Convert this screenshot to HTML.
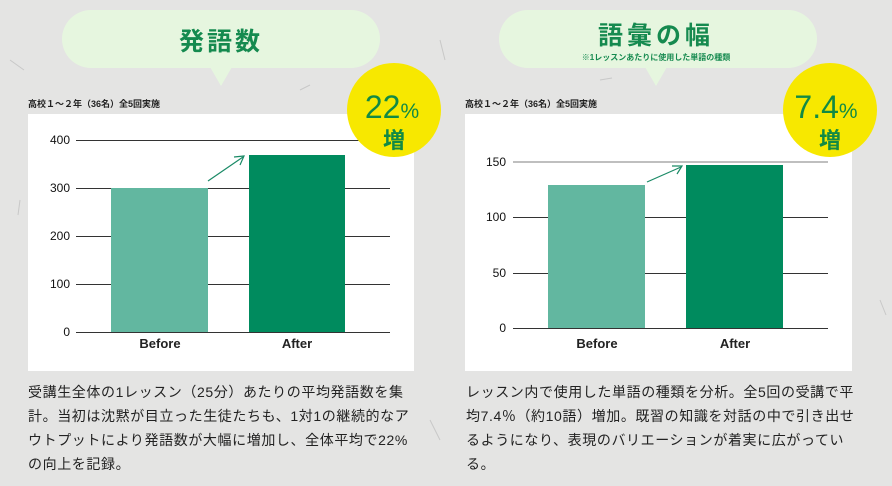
<!DOCTYPE html>
<html><head><meta charset="utf-8"><style>
body{margin:0;width:892px;height:486px;overflow:hidden;background:#e4e4e3;font-family:"Liberation Sans","Noto Sans CJK JP",sans-serif;}
.p{position:absolute;font-size:14px;line-height:24px;color:#222;letter-spacing:0.6px;white-space:nowrap;}
</style></head><body>
<svg width="892" height="486" style="position:absolute;left:0;top:0" font-family="Liberation Sans, Noto Sans CJK JP, sans-serif">
<g stroke="#c8c8c8" stroke-width="1">
<line x1="10" y1="60" x2="24" y2="70"/><line x1="440" y1="40" x2="445" y2="60"/><line x1="300" y1="90" x2="310" y2="85"/><line x1="860" y1="110" x2="872" y2="105"/><line x1="600" y1="80" x2="612" y2="78"/><line x1="430" y1="420" x2="440" y2="440"/><line x1="20" y1="200" x2="18" y2="215"/><line x1="880" y1="300" x2="886" y2="315"/>
</g>
<rect x="62" y="10" width="318" height="58" rx="29" fill="#e6f6df"/>
<polygon points="210,67 232,67 221,86" fill="#e6f6df"/>
<text x="221" y="50" text-anchor="middle" font-size="25" font-weight="bold" fill="#158a4f" letter-spacing="3">発語数</text>
<text x="28" y="107" font-size="9" font-weight="bold" fill="#222">高校１～２年（36名）全5回実施</text>
<rect x="28" y="114" width="386" height="257" fill="#fff"/>
<g stroke="#333" stroke-width="1"><line x1="76" y1="140.5" x2="390" y2="140.5"/><line x1="76" y1="188.5" x2="390" y2="188.5"/><line x1="76" y1="236.5" x2="390" y2="236.5"/><line x1="76" y1="284.5" x2="390" y2="284.5"/><line x1="76" y1="332.5" x2="390" y2="332.5"/></g>
<g font-size="12" text-anchor="end" fill="#111"><text x="70" y="144">400</text><text x="70" y="192">300</text><text x="70" y="240">200</text><text x="70" y="288">100</text><text x="70" y="336">0</text></g>
<rect x="111" y="188" width="97" height="144" fill="#62b7a0"/>
<rect x="249" y="155" width="96" height="177" fill="#008b5e"/>
<line x1="208" y1="181" x2="243" y2="157" stroke="#1a8a66" stroke-width="1.2"/><polyline points="234,157 244,156 240,165" fill="none" stroke="#1a8a66" stroke-width="1.2"/>
<g font-size="13" font-weight="bold" text-anchor="middle" fill="#222"><text x="160" y="348">Before</text><text x="297" y="348">After</text></g>
<circle cx="394" cy="110" r="47" fill="#f7e800"/>
<text x="392" y="118" text-anchor="middle" font-size="32" fill="#118a44"><tspan>22</tspan><tspan font-size="21">%</tspan></text>
<text x="394" y="148" text-anchor="middle" font-size="22" font-weight="bold" fill="#118a44">増</text>
<rect x="499" y="10" width="318" height="58" rx="29" fill="#e6f6df"/>
<polygon points="645,67 667,67 656,86" fill="#e6f6df"/>
<text x="656" y="44" text-anchor="middle" font-size="25" font-weight="bold" fill="#158a4f" letter-spacing="4">語彙の幅</text>
<text x="656" y="60" text-anchor="middle" font-size="8" font-weight="bold" fill="#158a4f">※1レッスンあたりに使用した単語の種類</text>
<text x="465" y="107" font-size="9" font-weight="bold" fill="#222">高校１～２年（36名）全5回実施</text>
<rect x="465" y="114" width="387" height="257" fill="#fff"/>
<line x1="513" y1="162" x2="828" y2="162" stroke="#aaa" stroke-width="1.5"/>
<g stroke="#333" stroke-width="1"><line x1="513" y1="217.5" x2="828" y2="217.5"/><line x1="513" y1="273.5" x2="828" y2="273.5"/><line x1="513" y1="328.5" x2="828" y2="328.5"/></g>
<g font-size="12" text-anchor="end" fill="#111"><text x="506" y="166">150</text><text x="506" y="221">100</text><text x="506" y="277">50</text><text x="506" y="332">0</text></g>
<rect x="548" y="185" width="97" height="143" fill="#62b7a0"/>
<rect x="686" y="165" width="97" height="163" fill="#008b5e"/>
<line x1="647" y1="182" x2="681" y2="167" stroke="#1a8a66" stroke-width="1.2"/><polyline points="672,166 682,166 677,174" fill="none" stroke="#1a8a66" stroke-width="1.2"/>
<g font-size="13" font-weight="bold" text-anchor="middle" fill="#222"><text x="597" y="348">Before</text><text x="735" y="348">After</text></g>
<circle cx="830" cy="110" r="47" fill="#f7e800"/>
<text x="826" y="118" text-anchor="middle" font-size="32" fill="#118a44"><tspan>7.4</tspan><tspan font-size="21">%</tspan></text>
<text x="830" y="148" text-anchor="middle" font-size="22" font-weight="bold" fill="#118a44">増</text>
</svg>
<div class="p" style="left:28px;top:380px">受講生全体の1レッスン（25分）あたりの平均発語数を集<br>計。当初は沈黙が目立った生徒たちも、1対1の継続的なア<br>ウトプットにより発語数が大幅に増加し、全体平均で22%<br>の向上を記録。</div>
<div class="p" style="left:466px;top:380px">レッスン内で使用した単語の種類を分析。全5回の受講で平<br>均7.4％（約10語）増加。既習の知識を対話の中で引き出せ<br>るようになり、表現のバリエーションが着実に広がってい<br>る。</div>
</body></html>
